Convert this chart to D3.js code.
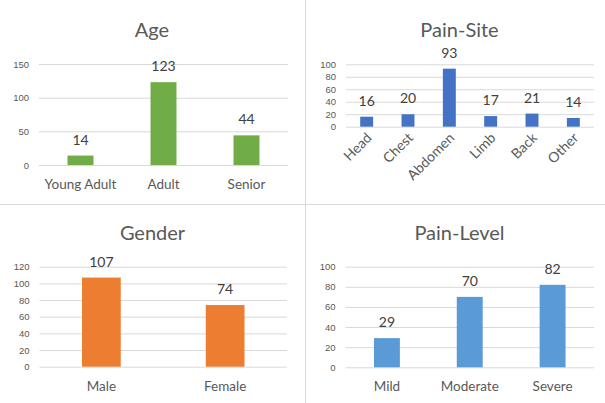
<!DOCTYPE html>
<html>
<head>
<meta charset="utf-8">
<script src="https://cdn.jsdelivr.net/npm/d3@7.9.0/dist/d3.min.js"></script>
<style>
  body { margin: 0; background: #fff; }
  svg { display: block; font-family: Lato, "Open Sans", sans-serif; }
  .tick text { fill: #595959; font-size: 9.5px; }
  .tick line { stroke: #d9d9d9; }
</style>
</head>
<body>
<svg id="chart" width="605" height="403"></svg>
<script>
const ageCats = ['Young Adult', 'Adult', 'Senior'];
const ageVals = [14, 123, 44];
const ageTicks = [0, 50, 100, 150];

const siteCats = ['Head', 'Chest', 'Abdomen', 'Limb', 'Back', 'Other'];
const siteVals = [16, 20, 93, 17, 21, 14];
const siteTicks = [0, 20, 40, 60, 80, 100];

const genderCats = ['Male', 'Female'];
const genderVals = [107, 74];
const genderTicks = [0, 20, 40, 60, 80, 100, 120];

const levelCats = ['Mild', 'Moderate', 'Severe'];
const levelVals = [29, 70, 82];
const levelTicks = [0, 20, 40, 60, 80, 100];

const svg = d3.select('#chart');

// panel separators
svg.append('line').attr('x1', 305.5).attr('x2', 305.5).attr('y1', 0).attr('y2', 403)
    .attr('stroke', '#d9d9d9');
svg.append('line').attr('x1', 0).attr('x2', 605).attr('y1', 204.5).attr('y2', 204.5)
    .attr('stroke', '#d9d9d9');

function drawPanel(opts) {
    const { title, cats, vals, ticks, color, x0, x1, y0, y1, titleX, titleY, rotate } = opts;
    const g = svg.append('g');

    const x = d3.scaleBand().domain(cats).range([x0, x1])
        .paddingInner(0.687).paddingOuter(0.3435);
    const y = d3.scaleLinear().domain([0, d3.max(ticks)]).range([y0, y1]);

    const yAxis = g.append('g')
        .attr('transform', `translate(${x0},0)`)
        .call(d3.axisLeft(y).tickValues(ticks).tickSize(-(x1 - x0)).tickPadding(10));
    yAxis.select('.domain').remove();

    g.selectAll('rect.bar').data(vals).join('rect')
        .attr('class', 'bar')
        .attr('x', (d, i) => x(cats[i]))
        .attr('width', x.bandwidth())
        .attr('y', (d) => y(d))
        .attr('height', (d) => y(0) - y(d))
        .attr('fill', color);

    g.selectAll('text.val').data(vals).join('text')
        .attr('class', 'val')
        .attr('x', (d, i) => x(cats[i]) + x.bandwidth() / 2)
        .attr('y', (d) => y(d) - 11)
        .attr('text-anchor', 'middle')
        .attr('fill', '#404040')
        .attr('font-size', '14px')
        .text((d) => d);

    if (rotate) {
        g.selectAll('text.cat').data(cats).join('text')
            .attr('class', 'cat')
            .attr('text-anchor', 'end')
            .attr('transform', (d) => `translate(${x(d) + x.bandwidth() / 2 + 6},${y0 + 12}) rotate(-45)`)
            .attr('fill', '#595959')
            .attr('font-size', '14px')
            .text((d) => d);
    } else {
        g.selectAll('text.cat').data(cats).join('text')
            .attr('class', 'cat')
            .attr('x', (d) => x(d) + x.bandwidth() / 2)
            .attr('y', y0 + 24)
            .attr('text-anchor', 'middle')
            .attr('fill', '#595959')
            .attr('font-size', '13.5px')
            .text((d) => d);
    }

    g.append('text')
        .attr('x', titleX).attr('y', titleY)
        .attr('text-anchor', 'middle')
        .attr('fill', '#595959')
        .attr('font-size', '20px')
        .text(title);
}

drawPanel({ title: 'Age', cats: ageCats, vals: ageVals, ticks: ageTicks, color: '#70ad47',
    x0: 39, x1: 288, y0: 165, y1: 64, titleX: 152, titleY: 37 });
drawPanel({ title: 'Pain-Site', cats: siteCats, vals: siteVals, ticks: siteTicks, color: '#4472c4',
    x0: 346, x1: 594, y0: 126.7, y1: 64.3, titleX: 459.5, titleY: 37, rotate: true });
drawPanel({ title: 'Gender', cats: genderCats, vals: genderVals, ticks: genderTicks, color: '#ed7d31',
    x0: 39.5, x1: 287, y0: 366.7, y1: 266.7, titleX: 152.5, titleY: 240 });
drawPanel({ title: 'Pain-Level', cats: levelCats, vals: levelVals, ticks: levelTicks, color: '#5b9bd5',
    x0: 345.5, x1: 594, y0: 367.3, y1: 266.7, titleX: 459.5, titleY: 240 });
</script>
</body>
</html>
